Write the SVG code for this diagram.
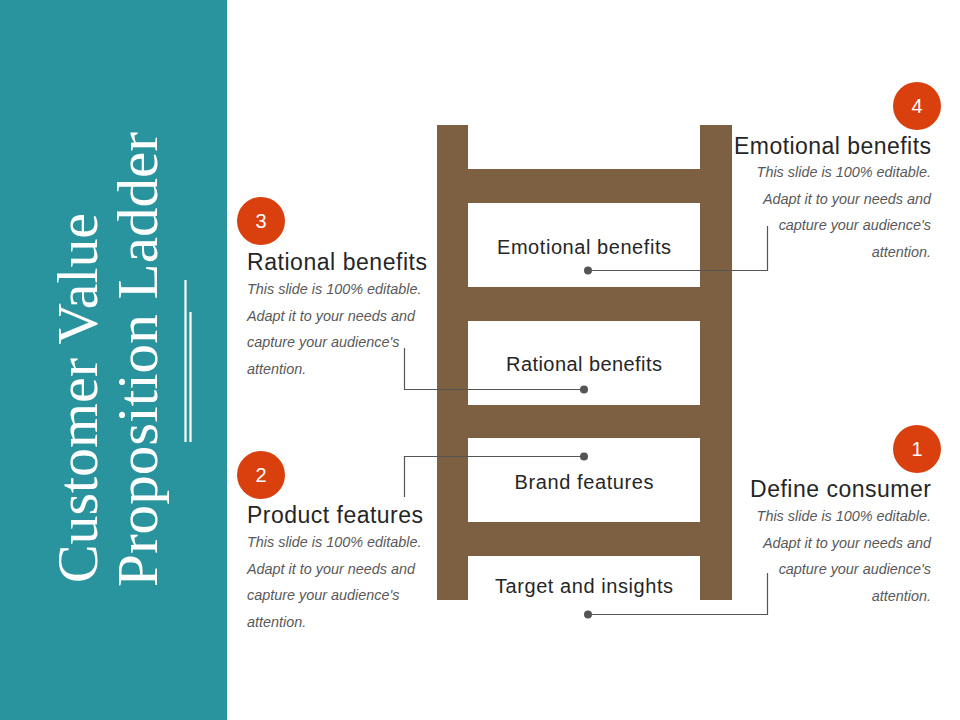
<svg xmlns="http://www.w3.org/2000/svg" width="960" height="720" viewBox="0 0 960 720">
  <style>
    .title { font-family: "Liberation Serif", "Times New Roman", serif; font-size: 58px; fill: #ffffff; }
    .rung-label { font-family: "Liberation Sans", Arial, sans-serif; font-size: 20px; fill: #262626; text-anchor: middle; }
    .head { font-family: "Liberation Sans", Arial, sans-serif; font-size: 23px; fill: #262626; }
    .body { font-family: "Liberation Sans", Arial, sans-serif; font-size: 14.4px; font-style: italic; fill: #595959; }
    .num { font-family: "Liberation Sans", Arial, sans-serif; font-size: 20px; fill: #ffffff; text-anchor: middle; }
    .badge { fill: #D9400E; }
    .wood { fill: #7D5F42; }
    .conn { fill: none; stroke: #555555; stroke-width: 1.2; }
    .dot { fill: #555555; }
    .r { text-anchor: end; }
  </style>
  <rect x="0" y="0" width="960" height="720" fill="#ffffff"/>

  <g id="sidebar">
    <rect x="0" y="0" width="227" height="720" fill="#2A949E"/>
    <text class="title" transform="translate(97,583) rotate(-90)" textLength="370" lengthAdjust="spacingAndGlyphs">Customer Value</text>
    <text class="title" transform="translate(157,587) rotate(-90)" textLength="455" lengthAdjust="spacingAndGlyphs">Proposition Ladder</text>
    <line x1="185.5" y1="280" x2="185.5" y2="442" stroke="#ffffff" stroke-width="2.2"/>
    <line x1="190.5" y1="312" x2="190.5" y2="442" stroke="#ffffff" stroke-width="2.2"/>
  </g>

  <g id="ladder">
    <rect class="wood" x="437" y="125" width="31" height="475"/>
    <rect class="wood" x="700" y="125" width="32" height="475"/>
    <rect class="wood" x="468" y="169" width="232" height="34"/>
    <rect class="wood" x="468" y="287" width="232" height="34"/>
    <rect class="wood" x="468" y="405" width="232" height="33"/>
    <rect class="wood" x="468" y="522" width="232" height="34"/>
  </g>

  <g id="rung-emotional">
    <text class="rung-label" x="584" y="254" textLength="174">Emotional benefits</text>
  </g>
  <g id="rung-rational">
    <text class="rung-label" x="584" y="371" textLength="156">Rational benefits</text>
  </g>
  <g id="rung-brand">
    <text class="rung-label" x="584" y="489" textLength="139">Brand features</text>
  </g>
  <g id="rung-target">
    <text class="rung-label" x="584" y="593" textLength="178">Target and insights</text>
  </g>

  <g id="connectors">
    <path class="conn" d="M588,270.5 H767.5 V226"/>
    <circle class="dot" cx="588" cy="270.5" r="4"/>
    <path class="conn" d="M584,389.5 H404.5 V348"/>
    <circle class="dot" cx="584" cy="389.5" r="4"/>
    <path class="conn" d="M584,456.5 H404.5 V497"/>
    <circle class="dot" cx="584" cy="456.5" r="4"/>
    <path class="conn" d="M588,614.5 H767.5 V573"/>
    <circle class="dot" cx="588" cy="614.5" r="4"/>
  </g>

  <g id="item-4">
    <circle class="badge" cx="917" cy="106" r="24"/>
    <text class="num" x="917" y="113">4</text>
    <text class="head r" x="931" y="154" textLength="197">Emotional benefits</text>
    <text class="body r" x="931" y="177">This slide is 100% editable.</text>
    <text class="body r" x="931" y="203.5">Adapt it to your needs and</text>
    <text class="body r" x="931" y="230">capture your audience's</text>
    <text class="body r" x="931" y="256.5">attention.</text>
  </g>

  <g id="item-3">
    <circle class="badge" cx="261" cy="221" r="24"/>
    <text class="num" x="261" y="228">3</text>
    <text class="head" x="247" y="270" textLength="180">Rational benefits</text>
    <text class="body" x="247" y="294">This slide is 100% editable.</text>
    <text class="body" x="247" y="320.5">Adapt it to your needs and</text>
    <text class="body" x="247" y="347">capture your audience's</text>
    <text class="body" x="247" y="373.5">attention.</text>
  </g>

  <g id="item-2">
    <circle class="badge" cx="261" cy="475" r="24"/>
    <text class="num" x="261" y="482">2</text>
    <text class="head" x="247" y="523" textLength="176">Product features</text>
    <text class="body" x="247" y="547">This slide is 100% editable.</text>
    <text class="body" x="247" y="573.5">Adapt it to your needs and</text>
    <text class="body" x="247" y="600">capture your audience's</text>
    <text class="body" x="247" y="626.5">attention.</text>
  </g>

  <g id="item-1">
    <circle class="badge" cx="917" cy="449" r="24"/>
    <text class="num" x="917" y="456">1</text>
    <text class="head r" x="931" y="497" textLength="181">Define consumer</text>
    <text class="body r" x="931" y="521">This slide is 100% editable.</text>
    <text class="body r" x="931" y="547.5">Adapt it to your needs and</text>
    <text class="body r" x="931" y="574">capture your audience's</text>
    <text class="body r" x="931" y="600.5">attention.</text>
  </g>
</svg>
